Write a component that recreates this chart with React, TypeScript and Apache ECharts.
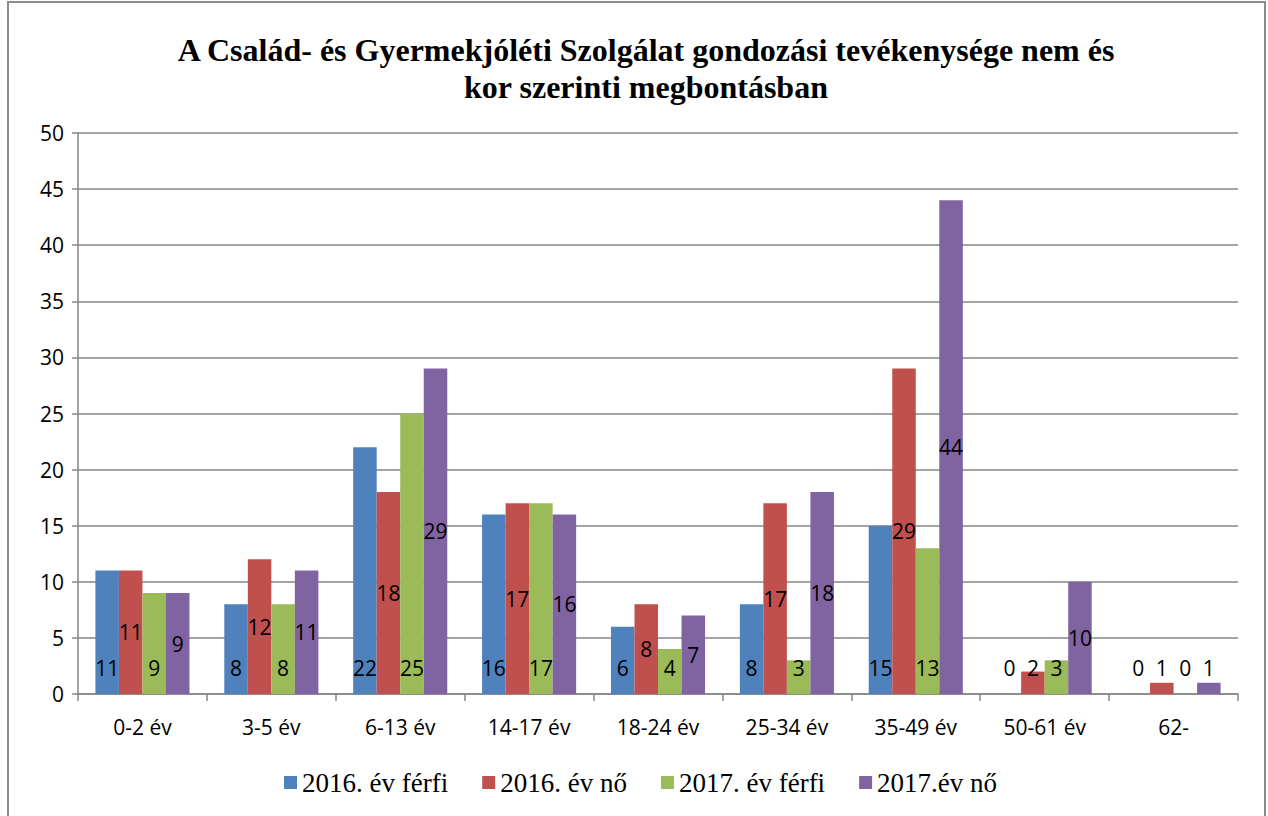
import React, { useEffect, useRef } from "react";
import * as echarts from "echarts";

const titleText = "A Család- és Gyermekjóléti Szolgálat gondozási tevékenysége nem és\nkor szerinti megbontásban";
const categories = ["0-2 év", "3-5 év", "6-13 év", "14-17 év", "18-24 év", "25-34 év", "35-49 év", "50-61 év", "62-"];
const seriesNames = ["2016. év férfi", "2016. év nő", "2017. év férfi", "2017.év nő"];
const ferfi2016 = [11, 8, 22, 16, 6, 8, 15, 0, 0];
const no2016 = [11, 12, 18, 17, 8, 17, 29, 2, 1];
const ferfi2017 = [9, 8, 25, 17, 4, 3, 13, 3, 0];
const no2017 = [9, 11, 29, 16, 7, 18, 44, 10, 1];
const yTicks = [0, 5, 10, 15, 20, 25, 30, 35, 40, 45, 50];

const colors = ["#4F81BD", "#C0504D", "#9BBB59", "#8064A2"];
const labelFont = "'Open Sans', 'Liberation Sans', sans-serif";
const serif = "'Liberation Serif', 'Times New Roman', serif";

export default function App() {
  const ref = useRef<HTMLDivElement>(null);
  useEffect(() => {
    if (!ref.current) return;
    const chart = echarts.init(ref.current, undefined, { renderer: "svg" });
    const baseLabel = {
      show: true,
      color: "#000",
      fontFamily: labelFont,
      fontSize: 21,
    };
    const bottomLabel = { position: "insideBottom", distance: 16 };
    const mkSeries = (name: string, values: number[], idx: number, centered: boolean) => ({
      name,
      type: "bar",
      barGap: "0%",
      barCategoryGap: "27%",
      itemStyle: { color: colors[idx] },
      label: centered ? { ...baseLabel, position: "inside" } : { ...baseLabel, ...bottomLabel },
      data: values.map((v) => (centered && v < 5 ? { value: v, label: bottomLabel } : v)),
    });
    chart.setOption({
      animation: false,
      color: colors,
      title: {
        text: titleText,
        left: 641,
        textAlign: "center",
        top: 26,
        textStyle: {
          fontFamily: serif,
          fontWeight: "bold",
          fontSize: 32,
          lineHeight: 37,
          color: "#000",
        },
      },
      graphic: [
        {
          type: "rect",
          shape: { x: 8, y: 2, width: 1257, height: 830 },
          style: { fill: "none", stroke: "#8c8c8c", lineWidth: 2 },
          silent: true,
        },
      ],
      legend: {
        data: seriesNames,
        left: 279,
        top: 764,
        itemWidth: 13,
        itemHeight: 13,
        itemGap: 34,
        icon: "rect",
        textStyle: { fontFamily: serif, fontSize: 27, color: "#000" },
      },
      grid: { left: 78, right: 30, top: 133, bottom: 122, containLabel: false },
      xAxis: {
        type: "category",
        data: categories,
        axisLine: { lineStyle: { color: "#868686", width: 1.5 } },
        axisTick: { show: true, length: 7, lineStyle: { color: "#868686", width: 1.5 } },
        axisLabel: { fontFamily: labelFont, fontSize: 21, color: "#000", margin: 22 },
      },
      yAxis: {
        type: "value",
        min: 0,
        max: 50,
        interval: 5,
        axisLine: { show: true, lineStyle: { color: "#868686", width: 1.5 } },
        axisTick: { show: true, length: 6, lineStyle: { color: "#868686", width: 1.5 } },
        splitLine: { lineStyle: { color: "#868686", width: 1.5 } },
        axisLabel: {
          fontFamily: labelFont,
          fontSize: 21,
          color: "#000",
          margin: 14,
          formatter: (v: number) => (yTicks.includes(v) ? String(v) : ""),
        },
      },
      series: [
        mkSeries(seriesNames[0], ferfi2016, 0, false),
        mkSeries(seriesNames[1], no2016, 1, true),
        mkSeries(seriesNames[2], ferfi2017, 2, false),
        mkSeries(seriesNames[3], no2017, 3, true),
      ],
    });
    return () => chart.dispose();
  }, []);
  return (
    <div
      ref={ref}
      style={{ position: "fixed", left: 0, top: 0, width: 1268, height: 816, background: "#fff" }}
    />
  );
}
